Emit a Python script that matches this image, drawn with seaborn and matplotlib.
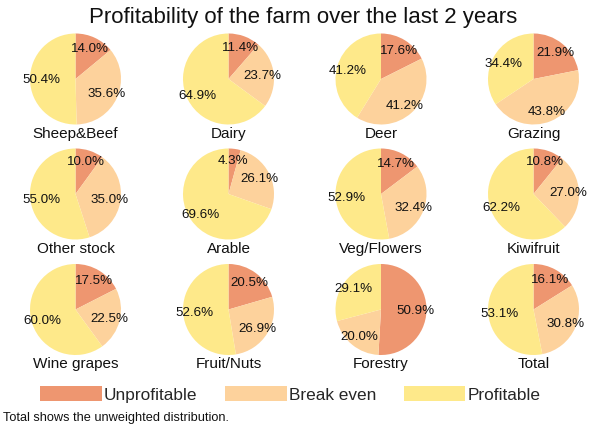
import matplotlib
matplotlib.use("Agg")
import matplotlib.pyplot as plt
from matplotlib.patches import Patch
import seaborn as sns

sns.set_theme(style="white")
plt.rcParams["font.family"] = ["Liberation Sans", "DejaVu Sans"]

categories = ["Sheep&Beef", "Dairy", "Deer", "Grazing",
              "Other stock", "Arable", "Veg/Flowers", "Kiwifruit",
              "Wine grapes", "Fruit/Nuts", "Forestry", "Total"]
unprofitable = [14.0, 11.4, 17.6, 21.9, 10.0, 4.3, 14.7, 10.8, 17.5, 20.5, 50.9, 16.1]
break_even = [35.6, 23.7, 41.2, 43.8, 35.0, 26.1, 32.4, 27.0, 22.5, 26.9, 20.0, 30.8]
profitable = [50.4, 64.9, 41.2, 34.4, 55.0, 69.6, 52.9, 62.2, 60.0, 52.6, 29.1, 53.1]
series_names = ["Unprofitable", "Break even", "Profitable"]

colors = sns.color_palette(["#EE9670", "#FDD29C", "#FEE98A"])

W, H = 592, 427
fig = plt.figure(figsize=(W / 100, H / 100), dpi=100)
fig.patch.set_facecolor("white")

col_x = [75.5, 228.5, 381, 533.5]
row_y = [80, 195, 310.5]
R = 45.5

for i, name in enumerate(categories):
    cx = col_x[i % 4]
    cy = row_y[i // 4]
    ax = fig.add_axes([(cx - R) / W, 1 - (cy + R) / H, 2 * R / W, 2 * R / H])
    vals = [unprofitable[i], break_even[i], profitable[i]]
    labels_iter = iter(vals)
    ax.pie(vals, colors=colors, startangle=90, counterclock=False,
           autopct=lambda p, it=labels_iter: f"{next(it):.1f}%",
           pctdistance=0.76, textprops={"fontsize": 9.6, "color": "#111111"},
           wedgeprops={"linewidth": 0})
    ax.set_xlim(-1, 1)
    ax.set_ylim(-1, 1)
    ax.set_aspect("equal")
    ax.axis("off")
    ax.text(0, -1.03, name, ha="center", va="top", fontsize=11,
            color="#111111", clip_on=False)

fig.text(303 / W, 1 - 17 / H, "Profitability of the farm over the last 2 years",
         ha="center", va="center", fontsize=16, color="#111111")

handles = [Patch(facecolor=c, edgecolor="none") for c in colors]
fig.legend(handles, series_names, loc="center", bbox_to_anchor=(290.5 / W, 1 - 395 / H),
           ncol=3, frameon=False, fontsize=12.4, handlelength=3.55, handleheight=0.93,
           handletextpad=0.13, columnspacing=1.63, borderpad=0)

fig.text(3 / W, 1 - 418 / H, "Total shows the unweighted distribution.",
         ha="left", va="center", fontsize=9.2, color="#111111")

fig.savefig("out.png", dpi=100, facecolor="white")
